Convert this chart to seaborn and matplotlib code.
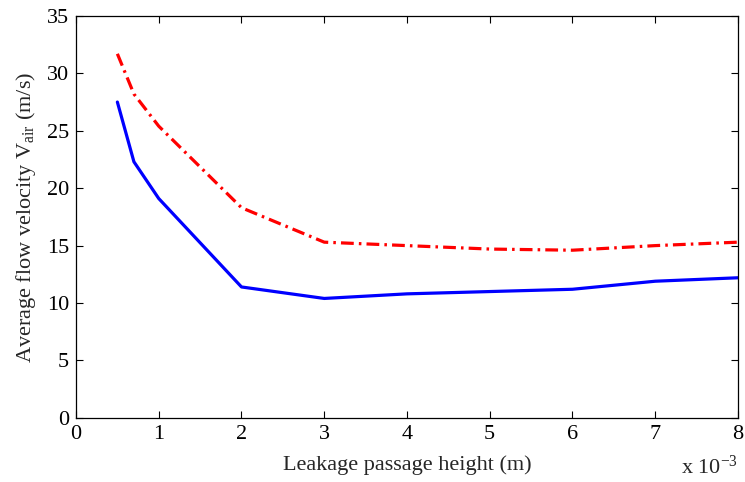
import pandas as pd
import matplotlib.pyplot as plt
import seaborn as sns

sns.set_theme(style="ticks")
plt.rcParams['font.family'] = ['Liberation Serif', 'DejaVu Serif']
plt.rcParams['mathtext.fontset'] = 'custom'
plt.rcParams['mathtext.rm'] = 'Liberation Serif'
plt.rcParams['mathtext.it'] = 'Liberation Serif:italic'

# datos
altura = [0.0005, 0.0007, 0.001, 0.002, 0.003, 0.004, 0.005, 0.006, 0.007, 0.008]
vel_azul = [27.5, 22.3, 19.1, 11.4, 10.4, 10.8, 11.0, 11.2, 11.9, 12.2]
vel_roja = [31.7, 28.2, 25.4, 18.3, 15.3, 15.0, 14.7, 14.6, 15.0, 15.3]

x_ticks = [0, 0.001, 0.002, 0.003, 0.004, 0.005, 0.006, 0.007, 0.008]
x_labels = ['0', '1', '2', '3', '4', '5', '6', '7', '8']
y_ticks = [0, 5, 10, 15, 20, 25, 30, 35]

df = pd.DataFrame({'h': altura, 'azul': vel_azul, 'roja': vel_roja})

fig = plt.figure(figsize=(7.45, 4.82), dpi=100)
ax = fig.add_axes([0.102, 0.133, 0.8886, 0.834])

sns.lineplot(data=df, x='h', y='azul', ax=ax, color='#0000ff', linewidth=2.3)
sns.lineplot(data=df, x='h', y='roja', ax=ax, color='#ff0000', linewidth=2.3,
             dashes=False)
ax.lines[-1].set_dashes([4, 1.6, 0.8, 1.6])

ax.set_xlim(0, 0.008)
ax.set_ylim(0, 35)
ax.set_xticks(x_ticks)
ax.set_xticklabels(x_labels)
ax.set_yticks(y_ticks)

ax.tick_params(direction='in', length=5, width=0.8, labelsize=16, colors='black',
               top=True, right=True, pad=5)
for s in ax.spines.values():
    s.set_visible(True)
    s.set_linewidth(0.9)
    s.set_color('black')

ax.set_xlabel('Leakage passage height (m)', fontsize=16, labelpad=8)
ax.set_ylabel(r'Average flow velocity V$_{\mathrm{air}}$ (m/s)', fontsize=16, labelpad=6)
ax.text(1.0, -0.095, r'x 10$^{-3}$', transform=ax.transAxes, ha='right', va='top',
        fontsize=16)

fig.savefig('out.png', dpi=100)
plt.close()
